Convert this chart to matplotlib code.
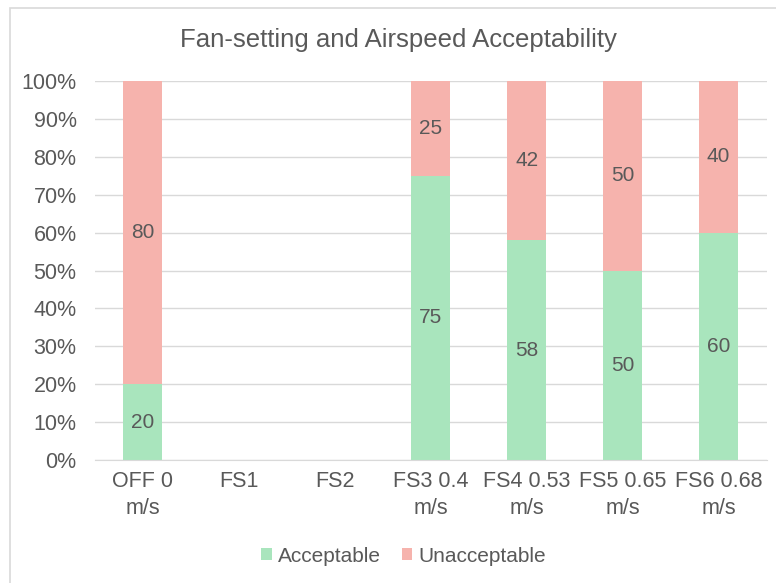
import numpy as np
import matplotlib.pyplot as plt
from matplotlib.patches import Rectangle

categories = ["OFF 0\nm/s", "FS1", "FS2", "FS3 0.4\nm/s", "FS4 0.53\nm/s",
              "FS5 0.65\nm/s", "FS6 0.68\nm/s"]
acceptable = [20, np.nan, np.nan, 75, 58, 50, 60]
unacceptable = [80, np.nan, np.nan, 25, 42, 50, 40]

green = '#A9E5BD'
pink = '#F6B3AD'
txt = '#595959'

plt.rcParams['font.family'] = ['Liberation Sans', 'DejaVu Sans']

fig = plt.figure(figsize=(7.76, 5.83), dpi=100)
fig.patches.append(Rectangle((10 / 776, -0.01), 1.0, 1 - 8 / 583 + 0.01,
                             transform=fig.transFigure, fill=False,
                             edgecolor='#D9D9D9', linewidth=1.2))
ax = fig.add_axes([0.122, 0.211, 0.866, 0.650])

x = np.arange(len(categories))
acc = np.array(acceptable, dtype=float)
una = np.array(unacceptable, dtype=float)
total = acc + una
acc_pct = acc / total * 100
una_pct = una / total * 100

b1 = ax.bar(x, acc_pct, width=0.4, color=green, zorder=2)
b2 = ax.bar(x, una_pct, width=0.4, bottom=acc_pct, color=pink, zorder=2)

for i in range(len(categories)):
    if np.isnan(acc[i]):
        continue
    ax.text(x[i], acc_pct[i] / 2, f"{acceptable[i]:g}", ha='center', va='center',
            fontsize=15, color=txt, zorder=3)
    ax.text(x[i], acc_pct[i] + una_pct[i] / 2, f"{unacceptable[i]:g}", ha='center',
            va='center', fontsize=15, color=txt, zorder=3)

ax.set_xlim(-0.5, len(categories) - 0.5)
ax.set_ylim(0, 100)
ax.set_yticks(np.arange(0, 101, 10))
ax.set_yticklabels([f"{v}%" for v in range(0, 101, 10)])
ax.set_xticks(x)
ax.set_xticklabels(categories, linespacing=1.35)
ax.grid(axis='y', color='#D9D9D9', linewidth=1, zorder=0)
ax.tick_params(axis='both', length=0, labelsize=15.5, labelcolor=txt)
ax.tick_params(axis='y', pad=13)
ax.tick_params(axis='x', pad=8)
for s in ['top', 'right', 'left']:
    ax.spines[s].set_visible(False)
ax.spines['bottom'].set_color('#D9D9D9')

fig.text(0.514, 1 - 40 / 583, "Fan-setting and Airspeed Acceptability",
         ha='center', va='center', fontsize=18.5, color=txt)

fig.legend([b1, b2], ["Acceptable", "Unacceptable"], loc='center',
           bbox_to_anchor=(0.52, 0.046), ncol=2, frameon=False, fontsize=15,
           labelcolor=txt, handlelength=0.5, handleheight=0.5, handletextpad=0.3,
           columnspacing=1.0)

fig.savefig("out.png", dpi=100)
